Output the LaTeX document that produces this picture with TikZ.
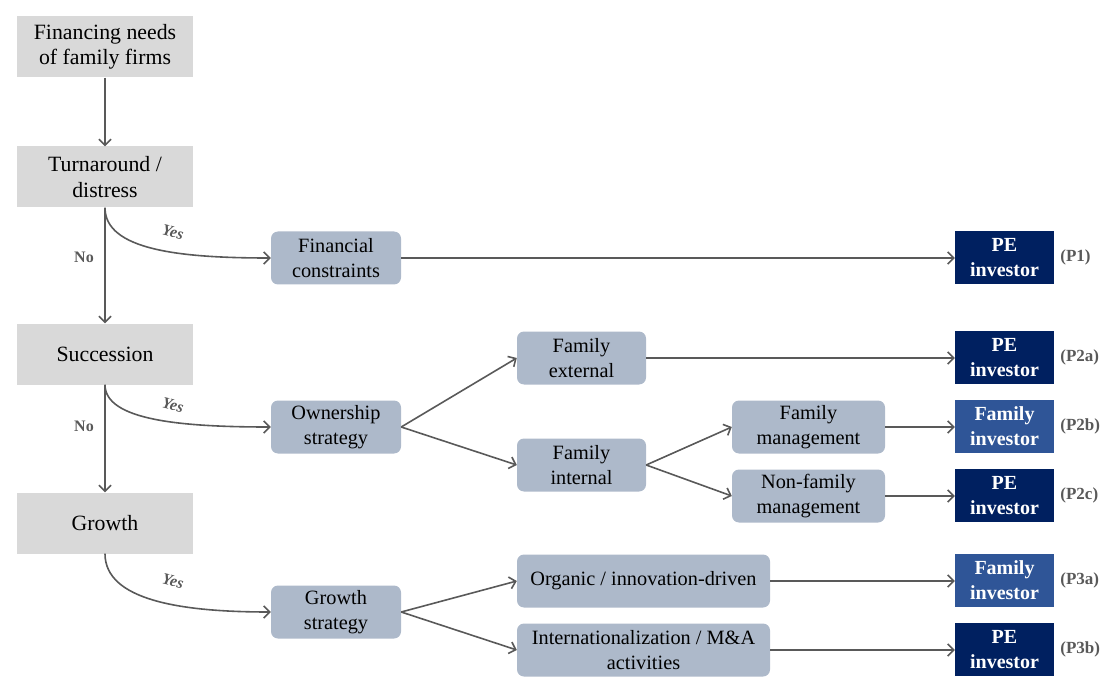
\documentclass[tikz,border=0pt]{standalone}
\usepackage{fontspec}
\setmainfont{Liberation Serif}
\usetikzlibrary{arrows.meta}
\definecolor{boxgray}{HTML}{D9D9D9}
\definecolor{boxblue}{HTML}{ADB9CA}
\definecolor{penavy}{HTML}{002060}
\definecolor{famblue}{HTML}{2F5597}
\definecolor{linegray}{HTML}{595959}
\tikzset{
  gbox/.style={fill=boxgray, minimum width=176pt, minimum height=61pt, inner sep=0pt, align=center, font=\fontsize{21.8}{25.5}\selectfont},
  bbox/.style={fill=boxblue, rounded corners=7pt, minimum height=53pt, inner sep=0pt, align=center, font=\fontsize{20.3}{25}\selectfont},
  inv/.style={minimum width=99pt, minimum height=53pt, inner sep=0pt, align=center, text=white, font=\fontsize{20}{25}\selectfont\bfseries},
  pebox/.style={inv, fill=penavy},
  fambox/.style={inv, fill=famblue},
  plabel/.style={anchor=west, inner sep=0pt, text=linegray, font=\fontsize{17}{20}\selectfont\bfseries},
  nolabel/.style={inner sep=0pt, text=linegray, font=\fontsize{16}{18}\selectfont\bfseries},
  yeslabel/.style={inner sep=0pt, text=linegray, rotate=-14, font=\fontsize{16}{18}\selectfont\bfseries\itshape},
  conn/.style={draw=linegray, line width=1.6pt, -{Straight Barb[length=6pt,width=12pt,line width=1.6pt]}},
}
\begin{document}
\begin{tikzpicture}[x=1pt, y=-1pt]
\useasboundingbox (0,0) rectangle (1109,679);
% left column
\node[gbox] (fin) at (105,47) {Financing needs\\of family firms};
\node[gbox] (turn) at (105,177) {Turnaround /\\distress};
\node[gbox] (succ) at (105,354) {Succession};
\node[gbox] (grow) at (105,523) {Growth};
% second column
\node[bbox, minimum width=130pt] (fc) at (336,258) {Financial\\constraints};
\node[bbox, minimum width=130pt] (own) at (336,427) {Ownership\\strategy};
\node[bbox, minimum width=130pt] (gs) at (336,612) {Growth\\strategy};
% third column
\node[bbox, minimum width=129pt] (fext) at (581.5,358) {Family\\external};
\node[bbox, minimum width=129pt] (fint) at (581.5,465) {Family\\internal};
\node[bbox, minimum width=253pt] (org) at (643.5,581) {Organic / innovation-driven};
\node[bbox, minimum width=253pt] (intl) at (643.5,650) {Internationalization / M\&A\\activities};
% fourth column
\node[bbox, minimum width=153pt] (fm) at (808.5,427) {Family\\management};
\node[bbox, minimum width=153pt] (nfm) at (808.5,496) {Non-family\\management};
% investors
\node[pebox] (p1) at (1004.5,257.5) {PE\\investor};
\node[pebox] (p2a) at (1004.5,357.5) {PE\\investor};
\node[fambox] (p2b) at (1004.5,426.5) {Family\\investor};
\node[pebox] (p2c) at (1004.5,495.5) {PE\\investor};
\node[fambox] (p3a) at (1004.5,580.5) {Family\\investor};
\node[pebox] (p3b) at (1004.5,649.5) {PE\\investor};
\node[plabel] (l1) at ([xshift=6pt]p1.east) {(P1)};
\node[plabel] (l2a) at ([xshift=6pt]p2a.east) {(P2a)};
\node[plabel] (l2b) at ([xshift=6pt]p2b.east) {(P2b)};
\node[plabel] (l2c) at ([xshift=6pt]p2c.east) {(P2c)};
\node[plabel] (l3a) at ([xshift=6pt]p3a.east) {(P3a)};
\node[plabel] (l3b) at ([xshift=6pt]p3b.east) {(P3b)};
% labels
\node[nolabel] (no1) at (84,257) {No};
\node[nolabel] (no2) at (84,426) {No};
\node[yeslabel] (y1) at (173,232) {Yes};
\node[yeslabel] (y2) at (173,405) {Yes};
\node[yeslabel] (y3) at (173,581) {Yes};
% connectors
\draw[conn] (fin) -- (turn);
\draw[conn] (turn) -- (succ);
\draw[conn] (succ) -- (grow);
\draw[conn] (turn.south) .. controls (105,250) and (180,258) .. (fc.west);
\draw[conn] (succ.south) .. controls (105,420) and (180,427) .. (own.west);
\draw[conn] (grow.south) .. controls (105,600) and (180,612) .. (gs.west);
\draw[conn] (own.east) -- (fext.west);
\draw[conn] (own.east) -- (fint.west);
\draw[conn] (fint.east) -- (fm.west);
\draw[conn] (fint.east) -- (nfm.west);
\draw[conn] (gs.east) -- (org.west);
\draw[conn] (gs.east) -- (intl.west);
\draw[conn] (fc.east) -- (fc.east -| p1.west);
\draw[conn] (fext.east) -- (fext.east -| p2a.west);
\draw[conn] (fm.east) -- (fm.east -| p2b.west);
\draw[conn] (nfm.east) -- (nfm.east -| p2c.west);
\draw[conn] (org.east) -- (org.east -| p3a.west);
\draw[conn] (intl.east) -- (intl.east -| p3b.west);
\end{tikzpicture}
\end{document}
